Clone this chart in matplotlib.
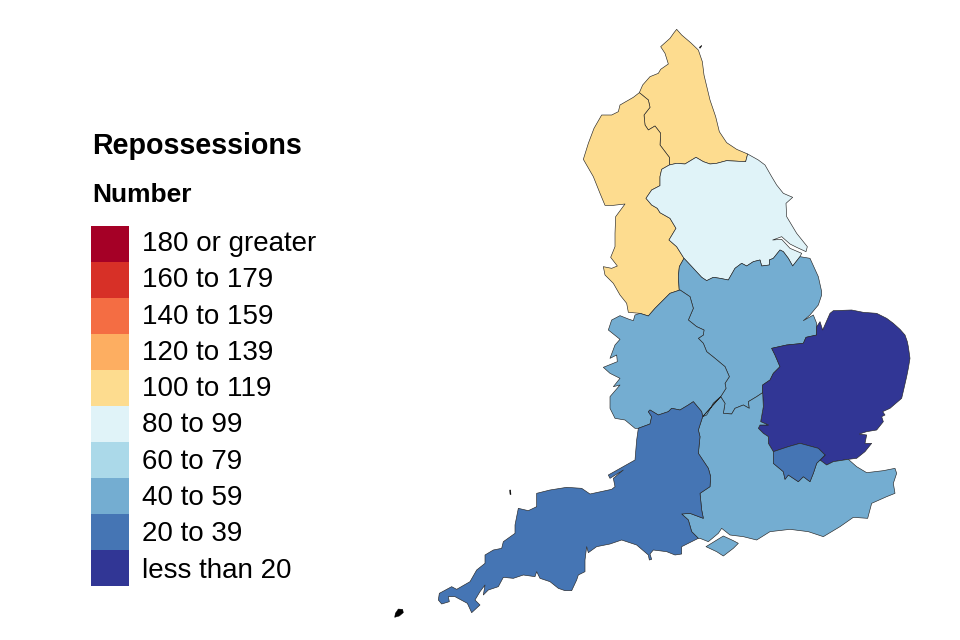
""" Map of repossessions by English region, outlines traced off the 3x crops
"""
import numpy as np
import matplotlib
matplotlib.use('Agg')
import matplotlib.pyplot as plt
from matplotlib.patches import Polygon

plt.rcParams['font.family'] = ['Liberation Sans', 'DejaVu Sans']

# Legend
bins = ['180 or greater', '160 to 179', '140 to 159', '120 to 139',
        '100 to 119', '80 to 99', '60 to 79', '40 to 59', '20 to 39',
        'less than 20']
bin_colors = ['#A50026', '#D73027', '#F46D43', '#FDAE61', '#FDDC8F',
              '#E0F3F8', '#ABD9E9', '#74ADD1', '#4575B4', '#313695']

# Band of each region
region_bin = {'North East': '100 to 119',
              'North West': '100 to 119',
              'Yorkshire and The Humber': '80 to 99',
              'East Midlands': '40 to 59',
              'West Midlands': '40 to 59',
              'East of England': 'less than 20',
              'South East': '40 to 59',
              'South West': '20 to 39',
              'London': '20 to 39'}


def crop_a(pts):
    return [(570 + x / 3., 20 + y / 3.) for x, y in pts]


def crop_b(pts):
    return [(600 + x / 3., 280 + y / 3.) for x, y in pts]


def crop_c(pts):
    return [(380 + x / 3., 400 + y / 3.) for x, y in pts]


# Borders, shared between the regions
NE_COAST = crop_a([(208, 218), (218, 195), (240, 170), (265, 160), (272, 148),
                   (295, 132), (285, 100), (272, 80), (300, 55), (312, 38),
                   (320, 28), (335, 45), (362, 68), (385, 90), (397, 125),
                   (402, 165), (408, 190), (420, 240), (437, 290), (448, 335),
                   (470, 368), (500, 388), (533, 402)])
NE_YH = crop_a([(533, 402), (527, 425), (470, 422), (440, 430), (420, 432),
                (400, 425), (378, 412), (345, 432), (320, 430), (298, 435)])
NE_NW = crop_a([(298, 435), (298, 412), (270, 375), (272, 340), (255, 318),
                (235, 330), (225, 315), (222, 285), (240, 262), (235, 240),
                (208, 218)])
NW_YH = crop_a([(298, 435), (275, 448), (270, 470), (270, 497), (245, 510),
                (228, 535), (245, 555), (262, 565), (270, 578), (300, 595),
                (318, 625), (297, 660), (320, 680), (342, 715)])
NW_EM = crop_a([(342, 715), (328, 740), (325, 770), (328, 815)])
NW_WM = crop_b([(240, 30), (210, 40), (165, 85), (145, 108), (120, 100)])
NW_COAST = crop_b([(120, 100), (85, 97)]) + crop_a(
    [(170, 850), (150, 825), (130, 790), (105, 765), (100, 740), (125, 745),
     (142, 738), (122, 712), (135, 680), (135, 640), (137, 590), (165, 552),
     (130, 556), (105, 556), (90, 520), (70, 470), (40, 418), (55, 370),
     (72, 325), (95, 285), (125, 285), (145, 275), (150, 255), (190, 232),
     (208, 218)])
YH_COAST = crop_a([(533, 402), (565, 420), (585, 435), (605, 470), (620, 495),
                   (640, 520), (668, 532), (648, 550), (650, 590), (680, 640),
                   (712, 680), (708, 695), (680, 682), (660, 672), (635, 650),
                   (608, 660), (635, 658), (660, 685), (695, 700), (690, 710)])
YH_EM = crop_a([(690, 710), (668, 738), (655, 715), (640, 695), (630, 690),
                (610, 715), (598, 720), (598, 735), (575, 738), (570, 720),
                (550, 725), (530, 738), (515, 730), (495, 745), (475, 780),
                (450, 775), (430, 772), (410, 782), (395, 772), (370, 745),
                (342, 715)])
EM_COAST = crop_a([(690, 710), (720, 715), (745, 770), (755, 815)]) + crop_b(
    [(665, 45), (655, 75), (630, 105), (610, 122), (640, 105),
     (650, 130), (650, 165)])
EM_EA = crop_b([(650, 165), (618, 172), (610, 190), (560, 195), (515, 205),
                (525, 225), (540, 260), (520, 280), (510, 300), (488, 315),
                (488, 338)])
EM_WM = crop_b([(240, 30), (270, 50), (280, 85), (265, 120), (290, 140),
                (312, 150), (310, 165), (295, 175), (310, 190), (320, 215),
                (345, 235), (375, 260), (388, 290), (375, 310), (378, 325),
                (362, 350)])
EM_SE = crop_b([(362, 350), (375, 370), (370, 400), (395, 402), (405, 385),
                (430, 375), (448, 385), (445, 365), (470, 350), (488, 338)])
WM_COAST = crop_b([(120, 100), (105, 105), (100, 122), (85, 117), (60, 107),
                   (35, 120), (25, 150), (60, 178), (45, 195), (30, 235),
                   (50, 225), (52, 245), (10, 262), (30, 280), (60, 295),
                   (40, 320), (60, 315), (30, 350), (30, 385), (45, 415),
                   (75, 420), (105, 445), (115, 445)])
WM_SW = crop_b([(115, 445), (150, 432), (155, 410), (145, 395), (150, 390),
                (175, 405), (205, 395), (215, 385), (240, 390), (265, 375),
                (280, 365), (305, 395), (308, 410)])
WM_SE = crop_b([(308, 410), (320, 405), (340, 370), (362, 350)])
SW_SE = crop_b([(308, 410), (295, 450), (300, 470), (295, 520), (305, 535),
                (325, 565), (332, 590), (330, 620), (300, 640), (305, 690),
                (310, 715), (270, 700), (245, 702), (265, 720), (275, 755),
                (295, 775)])
SW_COAST = crop_c([(955, 415), (945, 420), (905, 440), (905, 462), (885, 465),
                   (860, 455), (820, 450), (810, 462), (815, 478), (808, 480),
                   (805, 465), (770, 435), (725, 420), (690, 432), (650, 440),
                   (625, 458), (620, 440), (615, 480), (615, 515), (595, 525),
                   (590, 540), (575, 572), (555, 572), (535, 565), (510, 545),
                   (480, 535), (470, 515), (465, 530), (430, 525), (400, 535),
                   (370, 532), (355, 560), (325, 570), (310, 585), (315, 555),
                   (300, 575), (285, 600), (300, 615), (275, 638), (262, 610),
                   (225, 590), (205, 590), (208, 605), (185, 612), (175, 600),
                   (178, 580), (215, 560), (230, 568), (270, 545), (290, 510),
                   (315, 490), (315, 465), (340, 450), (365, 445), (370, 425),
                   (405, 400), (405, 375), (415, 325), (445, 332), (470, 320),
                   (470, 280), (510, 270), (560, 262), (605, 265), (630, 282),
                   (695, 268), (705, 260), (700, 235), (730, 210), (690, 235),
                   (685, 225), (765, 180), (770, 120), (775, 85)])
EA_COAST = crop_b([(650, 165), (650, 140), (660, 125), (668, 150), (690, 100),
                   (700, 92), (755, 90), (790, 97), (830, 100), (860, 115),
                   (880, 130), (900, 148), (915, 165), (922, 185), (925, 200),
                   (930, 235), (925, 265), (920, 290), (912, 325), (905, 355),
                   (870, 385), (848, 395), (855, 405), (845, 410), (850, 425),
                   (830, 450), (800, 455), (778, 462), (800, 465), (795, 490),
                   (815, 490), (795, 515), (770, 535), (745, 538)])
EA_SE = crop_b([(488, 338), (490, 380), (482, 425), (505, 435), (480, 435),
                (475, 445), (490, 460), (505, 470), (505, 490), (520, 515)])
EA_LONDON = crop_b([(520, 515), (565, 500), (600, 490), (655, 505),
                    (675, 525)])
EA_SE2 = crop_b([(675, 525), (660, 540), (680, 555), (700, 545), (745, 538)])
LONDON_SE = crop_b([(675, 525), (650, 550), (640, 580), (630, 605), (610, 590),
                    (595, 605), (565, 585), (555, 598), (550, 575), (520, 550),
                    (520, 515)])
SE_COAST = crop_b([(745, 538), (770, 560), (800, 578), (850, 572), (885, 565),
                   (890, 580), (880, 610), (885, 640), (860, 650), (815, 670),
                   (803, 715), (760, 712), (720, 740), (670, 770), (625, 755),
                   (570, 748), (510, 755), (470, 780), (430, 770), (390, 765),
                   (365, 745), (355, 760), (325, 785), (300, 775), (295, 775)])
WIGHT = crop_b([(318, 800), (370, 768), (400, 782), (415, 790), (400, 805),
                (370, 828), (350, 815)])
# Small islands, black because they are only outline at this size
LUNDY = crop_c([(389, 270), (392, 270), (393, 284), (390, 283)])
SCILLY = crop_c([(46, 640), (55, 627), (68, 628), (70, 638), (58, 648),
                 (44, 652)])
HOLY = crop_a([(388, 82), (395, 76), (394, 80), (390, 85)])


def rev(line):
    return line[::-1]


rings = {'North East': [NE_COAST + NE_YH + NE_NW],
         'North West': [rev(NE_NW) + NW_YH + NW_EM + NW_WM + NW_COAST],
         'Yorkshire and The Humber': [rev(NE_YH) + YH_COAST + YH_EM
                                      + rev(NW_YH)],
         'East Midlands': [rev(YH_EM) + EM_COAST + EM_EA + rev(EM_SE)
                           + rev(EM_WM) + rev(NW_EM)],
         'West Midlands': [NW_WM + WM_COAST + WM_SW + WM_SE + rev(EM_WM)],
         'East of England': [rev(EM_EA) + EA_COAST + rev(EA_SE2)
                             + rev(EA_LONDON) + rev(EA_SE)],
         'South East': [EM_SE + EA_SE + rev(LONDON_SE) + EA_SE2 + SE_COAST
                        + rev(SW_SE) + rev(WM_SE), WIGHT],
         'South West': [WM_SW + SW_SE + SW_COAST],
         'London': [EA_LONDON + LONDON_SE]}

# Pixel coordinates of the reference, so the axes covers the whole figure
fig = plt.figure(figsize=(9.6, 6.4), dpi=100)
ax = fig.add_axes([0, 0, 1, 1])
ax.set_xlim(0, 960)
ax.set_ylim(640, 0)
ax.axis('off')

for region, parts in rings.items():
    color = bin_colors[bins.index(region_bin[region])]
    for part in parts:
        ax.add_patch(Polygon(np.array(part), closed=True, facecolor=color,
                             edgecolor='#262626', linewidth=0.45,
                             joinstyle='round'))
for island in [LUNDY, SCILLY, HOLY]:
    ax.add_patch(Polygon(np.array(island), closed=True, facecolor='black',
                         edgecolor='black', linewidth=0.3))

# Legend
ax.text(92, 146, 'Repossessions', fontsize=20.6, fontweight='bold',
        va='center', ha='left', color='black')
ax.text(92, 195, 'Number', fontsize=19, fontweight='bold', va='center',
        ha='left', color='black')
y0, dy = 226, 36
ax.bar(np.full(len(bins), 110), dy, width=38,
       bottom=y0 + dy * np.arange(len(bins)), color=bin_colors, linewidth=0)
for i, label in enumerate(bins):
    ax.text(142, 244 + 36.3 * i, label, fontsize=20, va='center', ha='left',
            color='black')

plt.savefig('out.png', dpi=100)
